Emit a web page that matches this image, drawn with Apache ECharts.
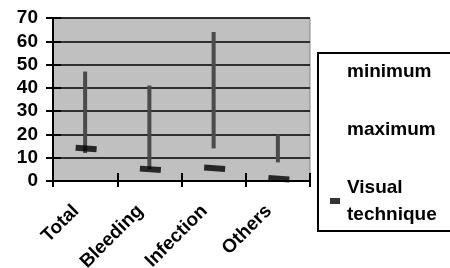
<!DOCTYPE html>
<html>
<head>
<meta charset="utf-8">
<script src="https://cdn.jsdelivr.net/npm/echarts@6/dist/echarts.min.js"></script>
<style>html,body{margin:0;padding:0;background:#fff}#c{width:450px;height:268px}</style>
</head>
<body>
<div id="c"></div>
<script>
var categories = ['Total', 'Bleeding', 'Infection', 'Others'];
var minimum = [12, 5, 14, 8];
var maximum = [47, 41, 64, 20];
var visual = [14, 5, 5.5, 1];
var yTicks = [0, 10, 20, 30, 40, 50, 60, 70];

var FONT = 'Arial, "Liberation Sans", sans-serif';
var chart = echarts.init(document.getElementById('c'), null, {renderer: 'canvas'});

var rangeData = categories.map(function (c, i) { return [i, minimum[i], maximum[i]]; });
var visualData = categories.map(function (c, i) { return [i, visual[i]]; });

chart.setOption({
  animation: false,
  backgroundColor: '#fff',
  grid: {
    left: 53, top: 18, width: 257, height: 163,
    containLabel: false, outerBoundsMode: 'none',
    show: true, backgroundColor: '#c0c0c0', borderColor: '#888', borderWidth: 1
  },
  graphic: [{
    type: 'rect', z: -10, silent: true,
    shape: {x: 318, y: 53, width: 200, height: 178},
    style: {fill: '#fff', stroke: '#000', lineWidth: 2}
  }],
  legend: {
    orient: 'vertical', left: 325, top: 53,
    itemWidth: 10, itemHeight: 6, itemGap: 31,
    symbolRotate: 0,
    textStyle: {fontFamily: FONT, fontSize: 19, fontWeight: 'bold', color: '#000', lineHeight: 27, padding: [0, 0, 0, 2]},
    formatter: function (n) { return n === 'Visual technique' ? 'Visual\ntechnique' : n; },
    data: [
      {name: 'minimum', icon: 'rect', itemStyle: {opacity: 0}},
      {name: 'maximum', icon: 'rect', itemStyle: {opacity: 0}},
      {name: 'Visual technique', icon: 'rect'}
    ]
  },
  xAxis: [{
    type: 'category', data: categories, boundaryGap: true,
    axisLine: {lineStyle: {color: '#000', width: 2}},
    axisTick: {show: true, length: 6, lineStyle: {color: '#000', width: 2}},
    axisLabel: {rotate: 45, margin: 18, padding: [0, 13, 0, 0], fontFamily: FONT, fontSize: 19, fontWeight: 'bold', color: '#000', interval: 0},
    splitLine: {show: false}
  }, {
    type: 'category', data: categories, boundaryGap: true, position: 'bottom',
    axisLine: {show: false},
    axisTick: {show: true, inside: true, length: 8, lineStyle: {color: '#000', width: 2}},
    axisLabel: {show: false}, splitLine: {show: false}
  }],
  yAxis: [{
    type: 'value', min: 0, max: 70, interval: 10,
    axisLine: {show: true, lineStyle: {color: '#000', width: 2}},
    axisTick: {show: true, length: 7, lineStyle: {color: '#000', width: 2}},
    axisLabel: {margin: 15, fontFamily: FONT, fontSize: 19, fontWeight: 'bold', color: '#000',
      formatter: function (v) { return yTicks.indexOf(v) >= 0 ? String(v) : ''; }},
    splitLine: {show: true, lineStyle: {color: '#000', width: 1.5}}
  }, {
    type: 'value', min: 0, max: 70, interval: 10, position: 'left',
    axisLine: {show: false},
    axisTick: {show: true, inside: true, length: 8, lineStyle: {color: '#000', width: 2}},
    axisLabel: {show: false}, splitLine: {show: false}
  }],
  series: [{
    name: 'minimum', type: 'scatter', data: minimum.map(function (v, i) { return [i, v]; }),
    symbolSize: 0, itemStyle: {color: 'rgba(0,0,0,0)'}, silent: true
  }, {
    name: 'maximum', type: 'scatter', data: maximum.map(function (v, i) { return [i, v]; }),
    symbolSize: 0, itemStyle: {color: 'rgba(0,0,0,0)'}, silent: true
  }, {
    name: 'hilo', type: 'custom', data: rangeData,
    encode: {x: 0, y: [1, 2]},
    renderItem: function (params, api) {
      var p1 = api.coord([api.value(0), api.value(1)]);
      var p2 = api.coord([api.value(0), api.value(2)]);
      return {type: 'line', shape: {x1: p1[0], y1: p1[1], x2: p2[0], y2: p2[1]},
        style: {stroke: '#4a4a4a', lineWidth: 4}};
    }
  }, {
    name: 'Visual technique', type: 'scatter', data: visualData,
    symbol: 'rect', symbolSize: [21, 6], symbolRotate: -4, symbolOffset: [1, 0],
    itemStyle: {color: '#000'}, z: 5
  }]
});
</script>
</body>
</html>
